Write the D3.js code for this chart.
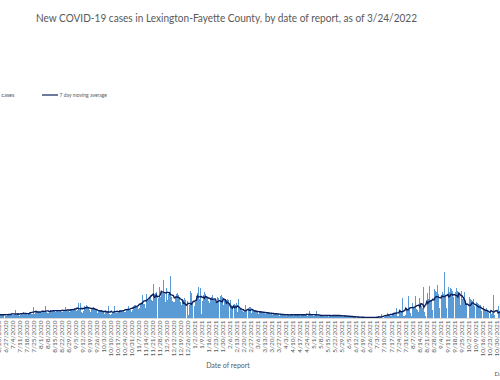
<!DOCTYPE html>
<html><head><meta charset="utf-8">
<script src="https://cdn.jsdelivr.net/npm/d3@7/dist/d3.min.js"></script>
<style>html,body{margin:0;padding:0;background:#fff;overflow:hidden}</style>
</head><body>
<svg id="c" width="500" height="380"></svg>
<script>
// ---- data ----
const title = "New COVID-19 cases in Lexington-Fayette County, by date of report, as of 3/24/2022";
const firstDay = "6/21/2020";
// daily new cases, one row per week (Sun..Sat), starting 6/21/2020
const cases = [
  20, 35, 30, 38, 32, 40, 22,
  22, 30, 38, 35, 40, 36, 30,
  25, 40, 76, 30, 35, 38, 22,
  30, 50, 45, 55, 48, 42, 38,
  30, 45, 42, 50, 40, 38, 105,
  40, 62, 58, 65, 60, 55, 59,
  45, 60, 55, 65, 114, 55, 47,
  50, 70, 72, 68, 75, 70, 64,
  55, 75, 80, 72, 78, 70, 60,
  55, 78, 70, 105, 72, 68, 63,
  60, 85, 90, 82, 88, 80, 75,
  65, 80, 143, 75, 143, 55, 48,
  70, 110, 105, 120, 115, 100, 80,
  60, 100, 95, 105, 100, 90, 80,
  45, 75, 70, 80, 72, 68, 59,
  40, 60, 55, 62, 114, 40, 28,
  40, 60, 58, 114, 50, 45, 46,
  48, 72, 75, 70, 78, 70, 56,
  55, 85, 90, 114, 85, 80, 58,
  75, 110, 120, 125, 115, 105, 85,
  95, 140, 155, 216, 135, 130, 95,
  228, 180, 175, 200, 216, 170, 161,
  323, 230, 240, 250, 0, 195, 295,
  200, 260, 240, 358, 230, 156, 285,
  170, 230, 250, 400, 200, 160, 151,
  150, 210, 230, 240, 220, 200, 150,
  120, 180, 175, 190, 170, 0, 166,
  30, 120, 256, 240, 150, 0, 110,
  150, 210, 240, 295, 180, 285, 40,
  160, 220, 250, 230, 210, 200, 158,
  140, 190, 200, 216, 180, 170, 150,
  150, 200, 190, 0, 210, 216, 196,
  120, 170, 180, 175, 185, 171, 0,
  174, 120, 110, 0, 130, 125, 139,
  60, 178, 90, 85, 80, 70, 53,
  55, 126, 80, 0, 95, 105, 106,
  45, 75, 80, 70, 72, 70, 57,
  40, 60, 65, 62, 60, 58, 54,
  35, 50, 55, 57, 50, 48, 41,
  28, 45, 48, 44, 42, 40, 40,
  22, 38, 40, 36, 35, 34, 26,
  20, 35, 36, 33, 32, 30, 24,
  22, 35, 38, 34, 33, 31, 24,
  20, 36, 35, 38, 32, 30, 26,
  22, 30, 67, 32, 30, 28, 22,
  18, 28, 67, 28, 26, 24, 19,
  15, 28, 30, 28, 27, 26, 21,
  14, 26, 28, 25, 24, 24, 20,
  15, 28, 30, 26, 25, 24, 20,
  10, 22, 24, 22, 20, 19, 16,
  8, 16, 18, 16, 15, 14, 11,
  4, 10, 11, 9, 9, 8, 5,
  3, 7, 8, 7, 7, 6, 4,
  3, 8, 7, 7, 6, 7, 4,
  4, 8, 10, 9, 38, 1, 0,
  10, 30, 32, 48, 35, 25, 16,
  15, 45, 50, 48, 42, 95, 20,
  20, 55, 60, 58, 190, 20, 17,
  30, 95, 90, 209, 80, 45, 18,
  143, 100, 95, 209, 90, 80, 60,
  190, 120, 110, 100, 295, 60, 21,
  0, 240, 180, 304, 170, 160, 80,
  0, 280, 260, 250, 311, 230, 97,
  0, 220, 250, 230, 437, 200, 91,
  0, 300, 247, 290, 280, 260, 198,
  0, 247, 290, 260, 250, 230, 123,
  254, 180, 200, 247, 160, 121, 0,
  0, 200, 180, 170, 160, 178, 113,
  0, 150, 140, 130, 125, 120, 70,
  0, 110, 90, 85, 95, 80, 51,
  0, 60, 40, 50, 216, 33, 0,
  0, 114, 70, 65, 60, 50, 40
];
const tickLabels = [
  "6/20/2020","6/27/2020","7/4/2020","7/11/2020","7/18/2020","7/25/2020","8/1/2020","8/8/2020",
  "8/15/2020","8/22/2020","8/29/2020","9/5/2020","9/12/2020","9/19/2020","9/26/2020","10/3/2020",
  "10/10/2020","10/17/2020","10/24/2020","10/31/2020","11/7/2020","11/14/2020","11/21/2020","11/28/2020",
  "12/5/2020","12/12/2020","12/19/2020","12/26/2020","1/2/2021","1/9/2021","1/16/2021","1/23/2021",
  "1/30/2021","2/6/2021","2/13/2021","2/20/2021","2/27/2021","3/6/2021","3/13/2021","3/20/2021",
  "3/27/2021","4/3/2021","4/10/2021","4/17/2021","4/24/2021","5/1/2021","5/8/2021","5/15/2021",
  "5/22/2021","5/29/2021","6/5/2021","6/12/2021","6/19/2021","6/26/2021","7/3/2021","7/10/2021",
  "7/17/2021","7/24/2021","7/31/2021","8/7/2021","8/14/2021","8/21/2021","8/28/2021","9/4/2021",
  "9/11/2021","9/18/2021","9/25/2021","10/2/2021","10/9/2021","10/16/2021","10/23/2021","10/30/2021",
  "11/6/2021"
];
const legendLabels = ["New cases", "7 day moving average"];
const xTitle = "Date of report";

// ---- chart ----
const parse = d3.utcParse("%m/%d/%Y");
const day0 = parse(firstDay);
const rows = cases.map((v, i) => ({date: d3.utcDay.offset(day0, i), v}));
const avg = rows.map((r, i) => {
  const w = cases.slice(Math.max(0, i - 3), Math.min(cases.length, i + 4));
  return {date: r.date, v: d3.mean(w)};
});

const svg = d3.select("#c");
const x = d3.scaleUtc().domain([parse("6/27/2020"), parse("10/30/2021")]).range([5, 496]);
const y = d3.scaleLinear().domain([0, 2000]).range([318, 108]);

svg.append("text").attr("x", 226.5).attr("y", 22).attr("text-anchor", "middle")
  .attr("font-family", "Lato, 'Liberation Sans', sans-serif").attr("font-size", 10.5)
  .attr("fill", "#595959").attr("textLength", 381).attr("lengthAdjust", "spacingAndGlyphs")
  .text(title);

// bars
svg.append("g").selectAll("rect").data(rows).join("rect")
  .attr("x", d => x(d.date) - 0.5).attr("width", 1)
  .attr("y", d => y(d.v)).attr("height", d => y(0) - y(d.v))
  .attr("fill", "#5B9BD5").attr("shape-rendering", "crispEdges");

// axis
const tickDates = tickLabels.map(parse);
const ax = svg.append("g").attr("transform", `translate(0,${y(0)})`)
  .call(d3.axisBottom(x).tickValues(tickDates).tickSize(0).tickFormat((d, i) => tickLabels[i]));
ax.select(".domain").remove();
ax.selectAll("text").attr("transform", "rotate(-90)").attr("x", -2.5).attr("y", 0)
  .attr("dy", "0.34em").attr("text-anchor", "end")
  .attr("font-family", "Lato, 'Liberation Sans', sans-serif").attr("font-size", 6.5).attr("fill", "#595959");
svg.append("line").attr("x1", 0).attr("x2", 500).attr("y1", y(0) + 0.5).attr("y2", y(0) + 0.5)
  .attr("stroke", "#d9d9d9").attr("stroke-width", 1);

// moving average line
svg.append("path").datum(avg)
  .attr("d", d3.line().x(d => x(d.date)).y(d => y(d.v)))
  .attr("fill", "none").attr("stroke", "#0b1f5c").attr("stroke-width", 1.4);

// legend
svg.append("text").attr("x", 14.5).attr("y", 97).attr("text-anchor", "end")
  .attr("font-family", "Lato, 'Liberation Sans', sans-serif").attr("font-size", 5.6).attr("fill", "#595959")
  .text(legendLabels[0]);
svg.append("line").attr("x1", 42).attr("x2", 58).attr("y1", 95).attr("y2", 95)
  .attr("stroke", "#0b1f5c").attr("stroke-width", 1.2);
svg.append("text").attr("x", 59.5).attr("y", 97)
  .attr("font-family", "Lato, 'Liberation Sans', sans-serif").attr("font-size", 5.6).attr("fill", "#595959")
  .attr("textLength", 47.5).attr("lengthAdjust", "spacingAndGlyphs")
  .text(legendLabels[1]);

// axis title
svg.append("text").attr("x", 228).attr("y", 368).attr("text-anchor", "middle")
  .attr("font-family", "Lato, 'Liberation Sans', sans-serif").attr("font-size", 7).attr("fill", "#595959")
  .text(xTitle);
svg.append("text").attr("x", 494.5).attr("y", 376)
  .attr("font-family", "Lato, 'Liberation Sans', sans-serif").attr("font-size", 6.5).attr("fill", "#595959")
  .text("Data source");
</script>
</body></html>
